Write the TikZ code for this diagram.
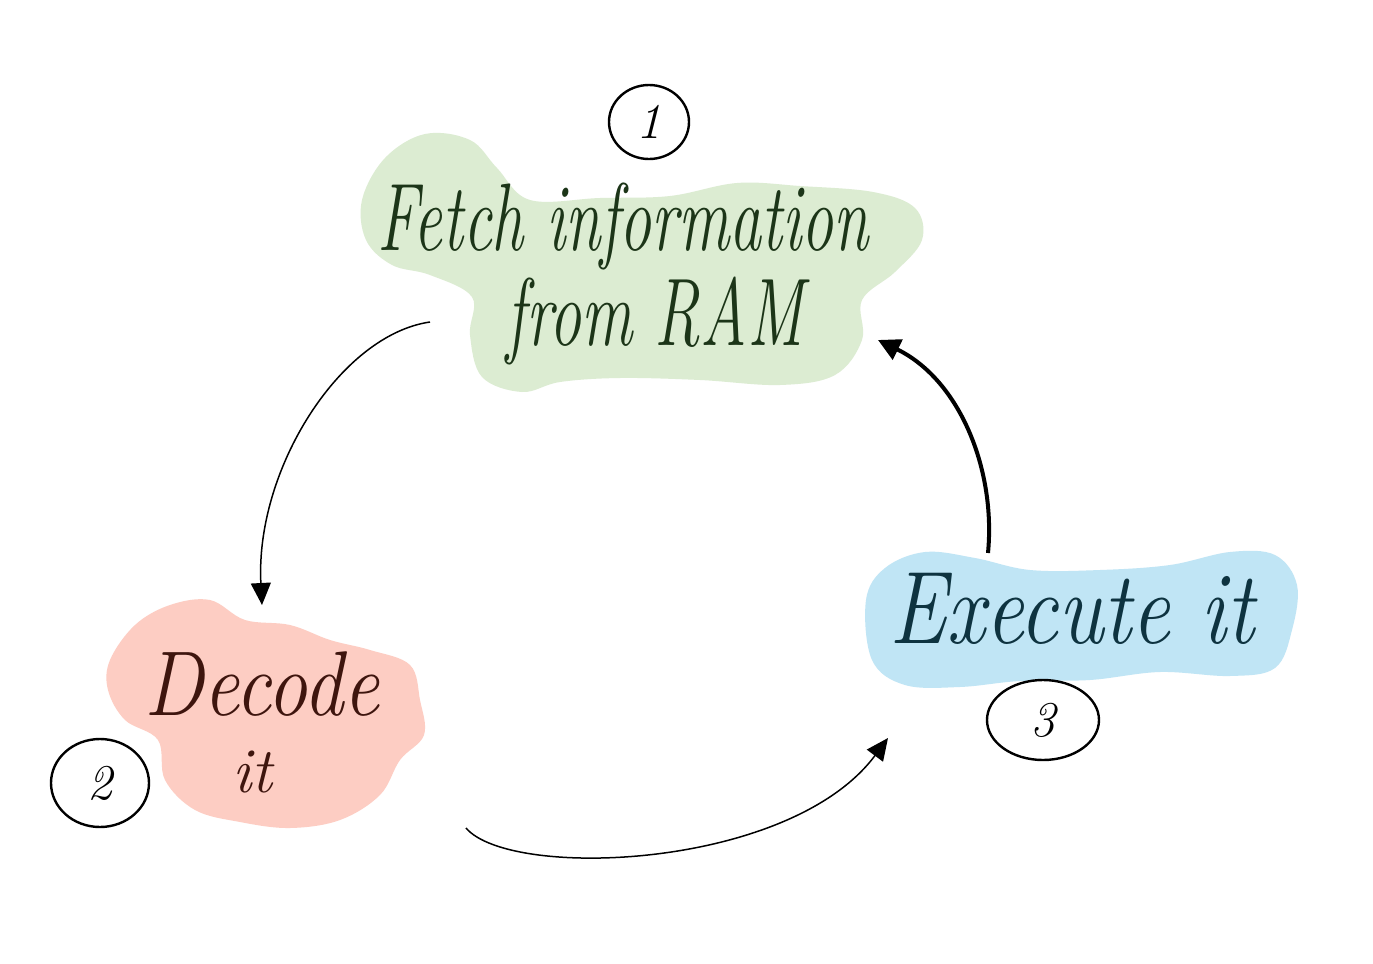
\documentclass[tikz,border=0pt]{standalone}
\usetikzlibrary{arrows.meta,shapes.geometric}
\definecolor{gfill}{HTML}{DCECD2}
\definecolor{rfill}{HTML}{FDCDC3}
\definecolor{bfill}{HTML}{C0E5F5}
\definecolor{gtext}{HTML}{1C3518}
\definecolor{rtext}{HTML}{3E150E}
\definecolor{btext}{HTML}{0E3340}
\begin{document}
\begin{tikzpicture}[x=0.5pt,y=-0.5pt,
  hand/.style={inner sep=0pt,font=\itshape},
  numcirc/.style={draw=black,line width=1.2pt,ellipse,inner sep=0pt,font=\fontsize{25}{25}\selectfont\itshape},
  thinarrow/.style={line width=0.75pt,-{Triangle[length=11pt,width=10pt]}},
  thickarrow/.style={line width=2pt,-{Triangle[length=11pt,width=11pt]}}]
\useasboundingbox (0,0) rectangle (1373,964);
\fill[white] (0,0) rectangle (1373,964);
% blobs
\fill[gfill] plot[smooth cycle,tension=0.6] coordinates {(362,200) (385,158) (425,134) (470,140) (497,168) (530,200) (600,198) (670,196) (737,183) (800,186) (873,192) (915,208) (922,240) (895,272) (862,300) (862,340) (835,375) (780,385) (700,380) (620,378) (560,382) (522,392) (482,377) (470,335) (472,297) (430,275) (392,265) (366,240)};
\fill[rfill] plot[smooth cycle,tension=0.6] coordinates {(110,660) (135,625) (170,605) (210,600) (245,620) (290,625) (330,640) (370,650) (410,665) (420,700) (424,735) (400,760) (380,795) (340,820) (290,828) (240,822) (195,810) (165,780) (158,740) (125,720) (108,690)};
\fill[bfill] plot[smooth cycle,tension=0.6] coordinates {(866,600) (885,568) (925,552) (975,558) (1030,570) (1100,570) (1170,565) (1230,552) (1275,555) (1297,585) (1292,630) (1275,668) (1230,676) (1160,672) (1090,680) (1020,681) (960,687) (905,685) (872,660)};
% texts
\node[hand,text=gtext,anchor=base,font=\fontsize{32}{32}\selectfont\itshape] (fetch1) at (623,250) {\scalebox{1}[1.5]{Fetch information}};
\node[hand,text=gtext,anchor=base,font=\fontsize{32}{32}\selectfont\itshape] (fetch2) at (655,345) {\scalebox{1}[1.5]{from RAM}};
\node[hand,text=rtext,anchor=base,font=\fontsize{40}{40}\selectfont\itshape] (dec1) at (262,715) {\scalebox{1}[1.15]{Decode}};
\node[hand,text=rtext,anchor=base,font=\fontsize{32}{32}\selectfont\itshape] (dec2) at (252,792) {it};
\node[hand,text=btext,anchor=base,font=\fontsize{43}{43}\selectfont\itshape] (exec) at (1072,643) {\scalebox{1}[1.2]{Execute it}};
% number circles
\node[numcirc,minimum width=40pt,minimum height=37pt] (n1) at (649,122) {1};
\node[numcirc,minimum width=49pt,minimum height=44pt] (n2) at (100,783) {2};
\node[numcirc,minimum width=56pt,minimum height=40pt] (n3) at (1043,720) {3};
% connectors
\coordinate (a1s) at (430,322);
\coordinate (a1e) at (262,605);
\coordinate (a2s) at (466,828);
\coordinate (a2e) at (888,738);
\coordinate (a3s) at (988,553);
\coordinate (a3e) at (878,340);
\draw[thinarrow] (a1s) .. controls (340,335) and (255,470) .. (a1e);
\draw[thinarrow] (a2s) .. controls (510,880) and (790,870) .. (a2e);
\draw[thickarrow] (a3s) .. controls (996,470) and (960,380) .. (a3e);
\end{tikzpicture}
\end{document}
